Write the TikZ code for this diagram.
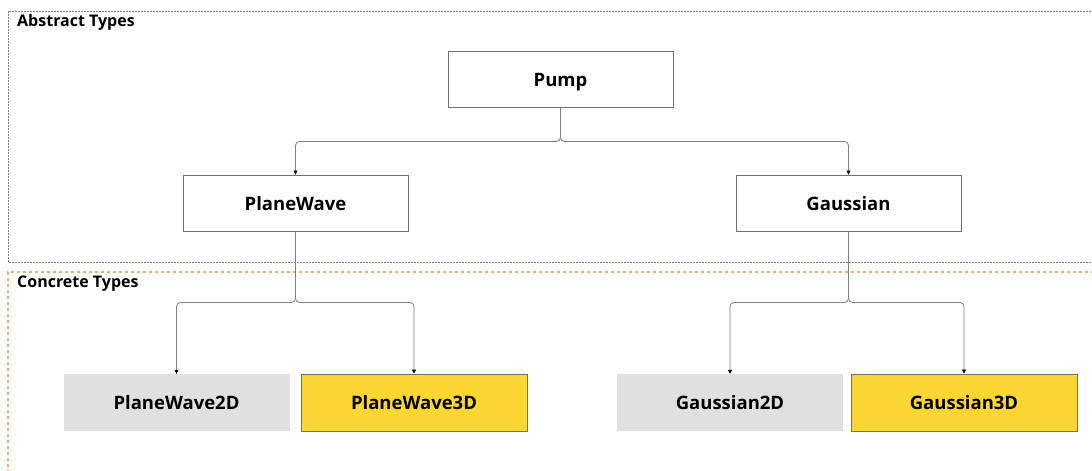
\documentclass[tikz,border=0pt]{standalone}
\usepackage{fontspec}
\setmainfont{Open Sans}
\usetikzlibrary{arrows.meta,calc}
\definecolor{boxline}{HTML}{707070}
\definecolor{connline}{HTML}{808080}
\definecolor{grayfill}{HTML}{E0E0E0}
\definecolor{yellowfill}{HTML}{FCD734}
\definecolor{orangedash}{HTML}{F5A878}
\definecolor{graydash}{HTML}{808080}
\tikzset{
  x=1pt,y=1pt,
  boxtext/.style={text height=14pt,text depth=0pt,inner sep=0pt,font=\fontsize{18.5}{20}\selectfont\bfseries},
  absbox/.style={boxtext,draw=boxline,line width=0.9pt,fill=white,minimum width=225pt,minimum height=56pt},
  graybox/.style={boxtext,fill=grayfill,minimum width=226pt,minimum height=57pt},
  yellowbox/.style={boxtext,draw=boxline,line width=0.9pt,fill=yellowfill,minimum width=226pt,minimum height=57pt},
  conn/.style={draw=connline,line width=0.8pt,rounded corners=4pt,-{Triangle[length=4pt,width=4pt,fill=black,color=black]}},
  grouplabel/.style={anchor=base west,inner sep=0pt,font=\fontsize{16}{18}\selectfont\bfseries},
}
\begin{document}
\begin{tikzpicture}
\useasboundingbox (0,0) rectangle (1092,-471);
% group frames
\draw[graydash,line width=0.8pt,dash pattern=on 2pt off 1pt] (1100,-11) -- (8,-11) -- (8,-262) -- (1100,-262);
\draw[orangedash,line width=1.4pt,dash pattern=on 3pt off 3pt] (1100,-272) -- (8,-272) -- (8,-480);
\node[grouplabel] (abs) at (17,-26) {Abstract Types};
\node[grouplabel] (con) at (17,-287) {Concrete Types};
% nodes
\node[absbox] (pump) at (560.5,-79) {Pump};
\node[absbox] (pw) at (295.5,-203) {PlaneWave};
\node[absbox] (ga) at (848.5,-203) {Gaussian};
\node[graybox] (pw2) at (176.5,-402.5) {PlaneWave2D};
\node[yellowbox] (pw3) at (414,-402.5) {PlaneWave3D};
\node[graybox] (ga2) at (730,-402.5) {Gaussian2D};
\node[yellowbox] (ga3) at (964,-402.5) {Gaussian3D};
% junctions
\coordinate (j1) at ($(pump.south)+(0,-34)$);
\coordinate (j2) at ($(pw.south)+(0,-71)$);
\coordinate (j3) at ($(ga.south)+(0,-71)$);
% connectors
\draw[conn] (pump.south) -- (j1) -| (pw.north);
\draw[conn] (pump.south) -- (j1) -| (ga.north);
\draw[conn] (pw.south) -- (j2) -| (pw2.north);
\draw[conn] (pw.south) -- (j2) -| (pw3.north);
\draw[conn] (ga.south) -- (j3) -| (ga2.north);
\draw[conn] (ga.south) -- (j3) -| (ga3.north);
\end{tikzpicture}
\end{document}
